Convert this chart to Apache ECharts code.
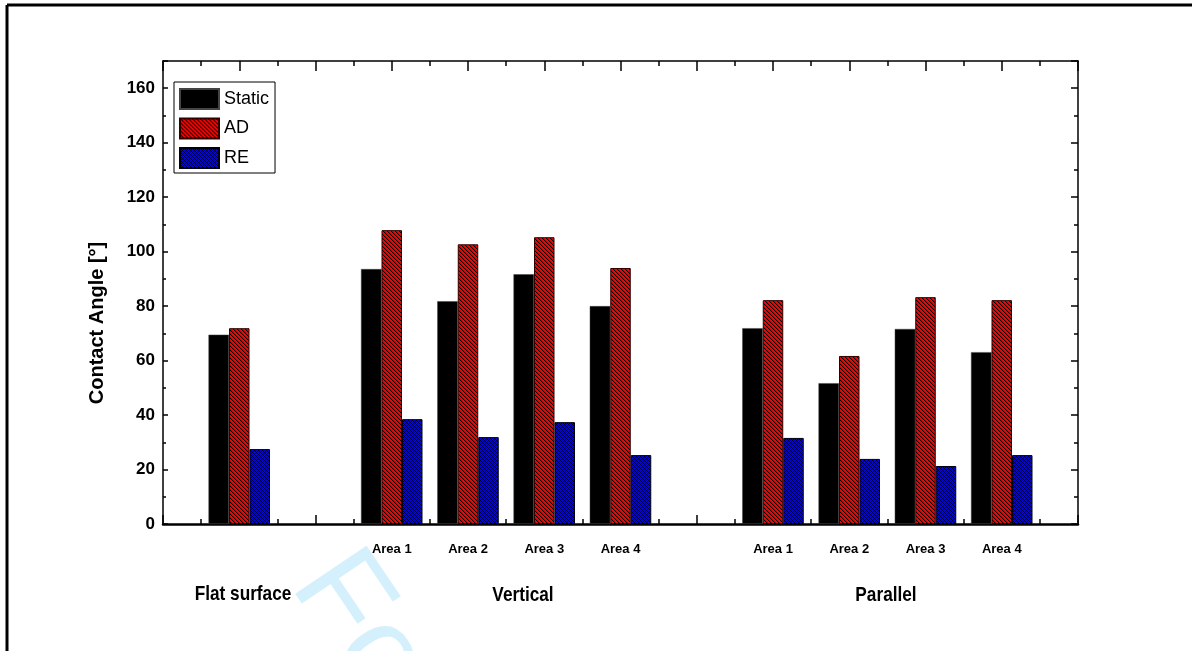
<!DOCTYPE html>
<html lang="en">
<head>
<meta charset="UTF-8">
<title>Contact Angle</title>
<script src="https://cdn.jsdelivr.net/npm/echarts@6/dist/echarts.min.js"></script>
<style>
    body { margin: 0; background: #fff; }
    #root { width: 1192px; height: 651px; }
</style>
</head>
<body>
<div id="root"></div>
<script>
    // x positions of the groups on the value axis (0..12)
    var positions = [1, 3, 4, 5, 6, 8, 9, 10, 11];
    var areaLabels = ['', '', '', 'Area 1', 'Area 2', 'Area 3', 'Area 4', '', 'Area 1', 'Area 2', 'Area 3', 'Area 4', ''];
    var groupNames = ['Flat surface', 'Vertical', 'Parallel'];

    var staticVals = [69.5, 93.6, 81.8, 91.7, 80.0, 71.9, 51.7, 71.6, 63.1];
    var adVals     = [71.9, 107.9, 102.7, 105.3, 94.0, 82.2, 61.7, 83.3, 82.2];
    var reVals     = [27.5, 38.5, 31.9, 37.4, 25.3, 31.6, 23.9, 21.3, 25.3];

    var sans = "'Liberation Sans', Arial, sans-serif";

    function makePattern(kind) {
        var c = document.createElement('canvas');
        c.width = 4; c.height = 4;
        var ctx = c.getContext('2d');
        var img = ctx.createImageData(4, 4);
        for (var y = 0; y < 4; y++) {
            for (var x = 0; x < 4; x++) {
                var i = (y * 4 + x) * 4, col;
                if (kind === 'red') {
                    var d = (x - y + 8) % 4;
                    col = d === 0 ? [0, 0, 0] : (d === 1 ? [190, 0, 0] : [255, 0, 0]);
                } else {
                    var a = (x + y) % 4, b = (x - y + 8) % 4;
                    col = (a === 0 || b === 0) ? [0, 0, 40] : [0, 0, 255];
                }
                img.data[i] = col[0]; img.data[i + 1] = col[1]; img.data[i + 2] = col[2]; img.data[i + 3] = 255;
            }
        }
        ctx.putImageData(img, 0, 0);
        return { image: c, repeat: 'repeat' };
    }

    function pairs(vals) {
        return vals.map(function (v, i) { return [positions[i], v]; });
    }

    var chart = echarts.init(document.getElementById('root'));

    var tickStyle = { color: '#000', width: 1.5 };

    chart.setOption({
        animation: false,
        backgroundColor: '#fff',
        grid: { left: 163, right: 114, top: 61, bottom: 127, containLabel: false },
        legend: {
            orient: 'vertical',
            left: 174, top: 82,
            padding: [6, 6, 4, 5],
            itemWidth: 39, itemHeight: 20, itemGap: 7.5,
            borderColor: '#000', borderWidth: 1,
            icon: 'rect',
            textStyle: { fontSize: 18, fontFamily: sans, color: '#000' },
            data: ['Static', 'AD', 'RE']
        },
        xAxis: [{
            type: 'value', position: 'bottom', min: 0, max: 12, interval: 1,
            axisLine: { onZero: false, lineStyle: { color: '#000', width: 2.5 } },
            axisTick: { inside: true, length: 9, lineStyle: tickStyle },
            minorTick: { show: true, splitNumber: 2, length: 5, lineStyle: tickStyle },
            splitLine: { show: false },
            axisLabel: {
                margin: 19, fontSize: 13, fontWeight: 'bold', fontFamily: sans, color: '#000',
                formatter: function (v) { return areaLabels[v] || ''; }
            }
        }, {
            type: 'value', position: 'top', min: 0, max: 12, interval: 1,
            axisLine: { onZero: false, lineStyle: { color: '#000', width: 1.5 } },
            axisTick: { inside: true, length: 10, lineStyle: tickStyle },
            minorTick: { show: true, splitNumber: 2, length: 5, lineStyle: tickStyle },
            splitLine: { show: false },
            axisLabel: { show: false }
        }],
        yAxis: [{
            type: 'value', position: 'left', min: 0, max: 170, interval: 20,
            axisLine: { show: true, onZero: false, lineStyle: { color: '#000', width: 1.5 } },
            axisTick: { show: true, inside: true, length: 5, lineStyle: tickStyle },
            splitLine: { show: false },
            axisLabel: {
                margin: 8, fontSize: 17, fontWeight: 'bold', fontFamily: sans, color: '#000',
                formatter: function (v) { return v > 160 ? '' : v; }
            }
        }, {
            type: 'value', position: 'left', min: 0, max: 170, interval: 10,
            axisLine: { show: false, onZero: false },
            axisTick: { show: true, inside: true, length: 3, lineStyle: tickStyle },
            splitLine: { show: false },
            axisLabel: { show: false }
        }, {
            type: 'value', position: 'right', min: 0, max: 170, interval: 20,
            axisLine: { show: true, onZero: false, lineStyle: { color: '#000', width: 1.5 } },
            axisTick: { show: true, inside: true, length: 7, lineStyle: tickStyle },
            splitLine: { show: false },
            axisLabel: { show: false }
        }, {
            type: 'value', position: 'right', min: 0, max: 170, interval: 10,
            axisLine: { show: false, onZero: false },
            axisTick: { show: true, inside: true, length: 4, lineStyle: tickStyle },
            splitLine: { show: false },
            axisLabel: { show: false }
        }],
        series: [{
            name: 'Static', type: 'bar', barWidth: 20.5, barGap: '0%',
            itemStyle: { color: '#000', borderColor: '#444', borderWidth: 0.5 },
            data: pairs(staticVals), z: 3
        }, {
            name: 'AD', type: 'bar', barWidth: 20.5, barGap: '0%',
            itemStyle: { color: makePattern('red'), borderColor: '#300', borderWidth: 1 },
            data: pairs(adVals), z: 3
        }, {
            name: 'RE', type: 'bar', barWidth: 20.5, barGap: '0%',
            itemStyle: { color: makePattern('blue'), borderColor: '#001', borderWidth: 1 },
            data: pairs(reVals), z: 3
        }],
        graphic: [{
            // faint watermark
            type: 'text', x: 318, y: 566, rotation: -0.977, z: -10, silent: true,
            style: { text: 'For Peer Review', fill: '#d4f0fc', font: '125px ' + sans, textAlign: 'left', textVerticalAlign: 'middle' }
        }, {
            type: 'line', z: 100, shape: { x1: 7, y1: 5, x2: 1192, y2: 5 }, style: { stroke: '#000', lineWidth: 3 }
        }, {
            type: 'line', z: 100, shape: { x1: 7, y1: 5, x2: 7, y2: 651 }, style: { stroke: '#000', lineWidth: 3 }
        }, {
            type: 'text', x: 97, y: 323, rotation: Math.PI / 2, z: 100,
            style: { text: 'Contact Angle [°]', fill: '#000', font: 'bold 20px ' + sans, textAlign: 'center', textVerticalAlign: 'middle' }
        }, {
            type: 'text', x: 243, y: 594, z: 100, scaleX: 0.82,
            style: { text: groupNames[0], fill: '#000', font: 'bold 21px ' + sans, textAlign: 'center', textVerticalAlign: 'middle' }
        }, {
            type: 'text', x: 523, y: 595, z: 100, scaleX: 0.82,
            style: { text: groupNames[1], fill: '#000', font: 'bold 21px ' + sans, textAlign: 'center', textVerticalAlign: 'middle' }
        }, {
            type: 'text', x: 886, y: 595, z: 100, scaleX: 0.82,
            style: { text: groupNames[2], fill: '#000', font: 'bold 21px ' + sans, textAlign: 'center', textVerticalAlign: 'middle' }
        }]
    });
</script>
</body>
</html>
